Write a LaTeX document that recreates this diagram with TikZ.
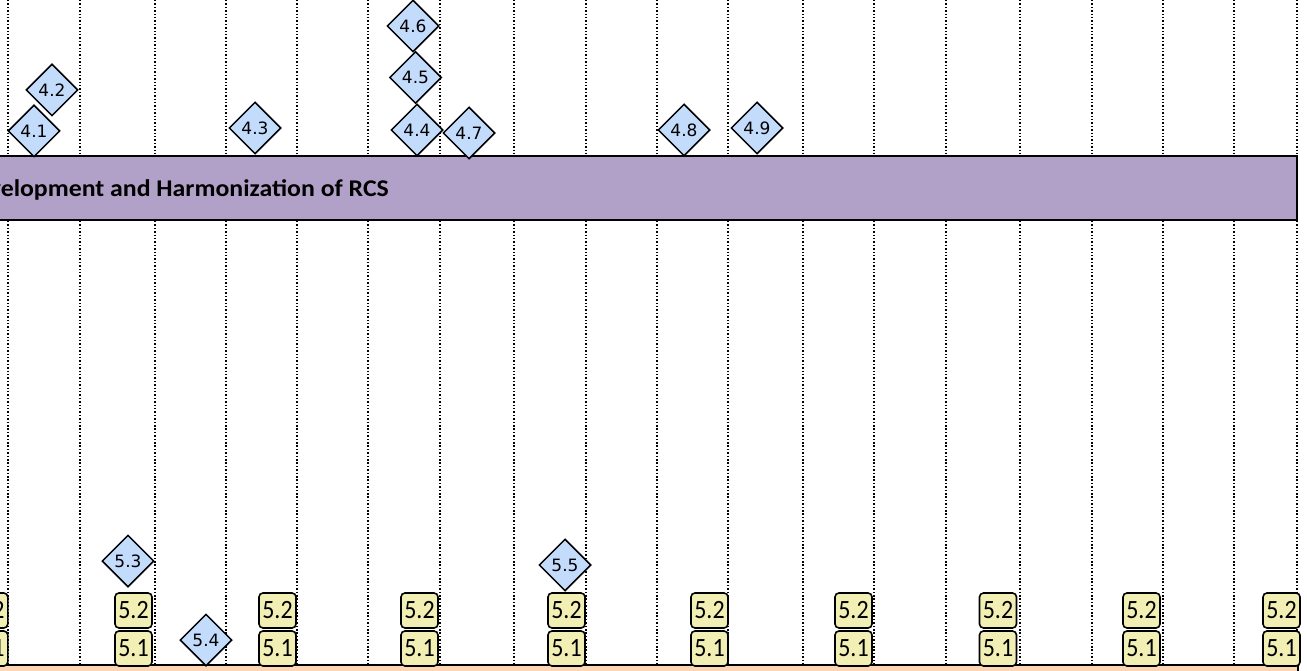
\documentclass[tikz,border=0pt]{standalone}
\usepackage{fontspec}
\setmainfont{Carlito}
\newfontfamily\dvs{DejaVu Sans}
\usetikzlibrary{shapes.geometric}
\definecolor{barpurple}{HTML}{B1A0C7}
\definecolor{diablue}{HTML}{C4DCFC}
\definecolor{boxyellow}{HTML}{F1EFB4}
\definecolor{peach}{HTML}{FCD5B4}
\begin{document}
\begin{tikzpicture}[x=1pt,y=-1pt,
  gridline/.style={line width=1.5pt, dash pattern=on 1.5pt off 1.9pt},
  dia/.style={diamond, draw, line width=1.5pt, fill=diablue, minimum width=52pt, minimum height=52pt, inner sep=0pt, font=\dvs\fontsize{17}{17}\selectfont},
  ybox/.style={draw, line width=1.6pt, fill=boxyellow, rounded corners=4pt, minimum width=37pt, minimum height=35pt, inner sep=0pt, font=\fontsize{24}{24}\selectfont},
  barbox/.style={draw, line width=1.6pt, fill=barpurple},
  bottombar/.style={draw, line width=1.6pt, fill=peach}]
\useasboundingbox (0,0) rectangle (1307,671);
\clip (0,0) rectangle (1307,671);
\fill[white] (0,0) rectangle (1307,671);
% grid lines
\foreach \x in {8,80,155,226,297,368,440,514,586,657,728,803,874,946,1020,1092,1163,1234,1297}
  \draw[gridline] (\x,0) -- (\x,665);
% RCS bar
\draw[barbox] (-20,156) rectangle (1297,220);
\node[anchor=base east, inner sep=0pt, font=\bfseries\fontsize{24}{24}\selectfont] (rcstext) at (389,197) {\scalebox{1.075}[1]{Development and Harmonization of RCS}};
% bottom bar
\draw[bottombar] (-20,665) rectangle (1298,700);
% diamonds above the bar
\node[dia] (d41) at (34,131) {4.1};
\node[dia] (d42) at (52,90) {4.2};
\node[dia] (d43) at (255,128) {4.3};
\node[dia] (d46) at (413,26) {4.6};
\node[dia] (d45) at (415.5,77.5) {4.5};
\node[dia] (d44) at (417,130) {4.4};
\node[dia] (d47) at (469,133) {4.7};
\node[dia] (d48) at (684,130) {4.8};
\node[dia] (d49) at (757,128) {4.9};
% diamonds below
\node[dia] (d53) at (128,561) {5.3};
\node[dia] (d54) at (206,640) {5.4};
\node[dia] (d55) at (565,565) {5.5};
% yellow boxes
\foreach \x [count=\i] in {-10.7,133.5,277.5,419.5,566.5,709.5,853.5,998,1141.5,1281.5} {
  \node[ybox] (bb\i) at (\x,610.5) {\scalebox{1}[1.1]{5.2}};
  \node[ybox] (ba\i) at (\x,648.5) {\scalebox{1}[1.1]{5.1}};
}
\end{tikzpicture}
\end{document}
